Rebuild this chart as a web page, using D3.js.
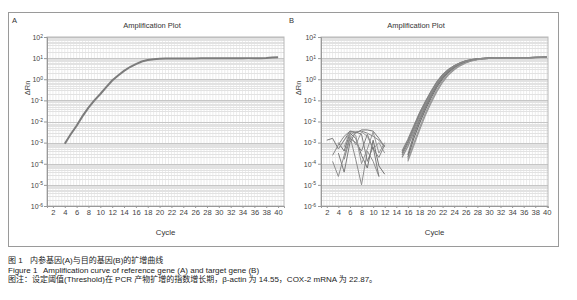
<!DOCTYPE html>
<html>
<head>
<meta charset="utf-8">
<script src="https://cdn.jsdelivr.net/npm/d3@7"></script>
<style>
  body { margin: 0; background: #fff; }
  svg { display: block; }
</style>
</head>
<body>
<script>
// ---- data ----
var xTicks = [2, 4, 6, 8, 10, 12, 14, 16, 18, 20, 22, 24, 26, 28, 30, 32, 34, 36, 38, 40];
var yDecades = [-6, -5, -4, -3, -2, -1, 0, 1, 2];

// panel A: reference gene, cycles 4..40
var cyclesA = d3.range(4, 41);
var valuesA = [8.9e-4, 2.5e-3, 6.3e-3, 1.8e-2, 4.5e-2, 0.10, 0.20, 0.42, 0.87, 1.5,
               2.5, 3.8, 5.2, 6.9, 8.1, 8.9, 9.3, 9.5, 9.6, 9.6,
               9.7, 9.7, 9.7, 9.8, 9.8, 9.8, 9.8, 9.9, 9.9, 9.9,
               9.9, 10.0, 10.0, 10.0, 10.2, 10.6, 11.0];

// panel B: target gene, amplification curves
var curvesB = [
  { start: 15, values: [3.2e-4, 1.1e-3, 5.0e-3, 2.2e-2, 7.9e-2, 0.25, 0.71, 1.6, 2.8, 4.3, 5.9, 7.4, 8.5, 9.3, 9.8, 10.0, 10.1, 10.2, 10.6, 10.3, 10.4, 10.5, 10.6, 10.8, 11.0, 11.2] },
  { start: 15, values: [2.0e-4, 6.5e-4, 3.0e-3, 1.4e-2, 5.5e-2, 0.19, 0.56, 1.3, 2.5, 3.9, 5.5, 7.0, 8.2, 9.0, 9.6, 9.9, 10.0, 10.1, 10.2, 10.3, 10.3, 10.4, 10.5, 10.7, 10.9, 11.1] },
  { start: 16, values: [2.0e-4, 1.5e-3, 8.0e-3, 3.5e-2, 0.13, 0.42, 1.05, 2.1, 3.5, 5.1, 6.6, 7.9, 8.8, 9.4, 9.8, 10.0, 10.1, 10.2, 10.3, 10.3, 10.4, 10.5, 10.7, 10.9, 11.1] },
  { start: 16, values: [1.6e-4, 9.0e-4, 5.0e-3, 2.4e-2, 9.5e-2, 0.32, 0.85, 1.8, 3.1, 4.7, 6.2, 7.6, 8.6, 9.3, 9.7, 9.9, 10.0, 10.1, 10.2, 10.3, 10.4, 10.5, 10.6, 10.8, 11.0] },
  { start: 15, values: [4.0e-4, 1.4e-3, 6.0e-3, 2.5e-2, 8.5e-2, 0.27, 0.75, 1.65, 2.9, 4.4, 6.0, 7.5, 8.6, 9.3, 9.8, 10.0, 10.1, 10.2, 10.3, 10.3, 10.4, 10.5, 10.6, 10.8, 11.0, 11.2] },
  { start: 16, values: [2.6e-4, 2.2e-3, 1.1e-2, 4.5e-2, 0.16, 0.50, 1.2, 2.3, 3.7, 5.3, 6.8, 8.0, 8.9, 9.5, 9.9, 10.0, 10.1, 10.2, 10.3, 10.4, 10.5, 10.6, 10.8, 11.0, 11.2] },
  { start: 16, values: [1.3e-4, 7.0e-4, 3.8e-3, 1.9e-2, 7.5e-2, 0.26, 0.72, 1.6, 2.8, 4.3, 5.9, 7.3, 8.4, 9.1, 9.6, 9.9, 10.0, 10.1, 10.2, 10.3, 10.3, 10.4, 10.6, 10.8, 11.0] },
  { start: 15, values: [2.6e-4, 9.0e-4, 4.0e-3, 1.8e-2, 6.5e-2, 0.22, 0.63, 1.45, 2.6, 4.1, 5.7, 7.2, 8.4, 9.2, 9.7, 9.9, 10.0, 10.1, 10.2, 10.3, 10.4, 10.5, 10.6, 10.8, 11.0, 11.2] }
];

// panel B: noisy early signal
var noiseB = [
  { start: 2, values: [1.3e-3, 1.6e-3, 5.0e-4, 1.3e-3, 3.5e-3, 2.8e-3, 4.0e-3, 4.0e-3, 3.5e-3, 1.6e-3, 6.3e-4] },
  { start: 3, values: [1.3e-4, 2.5e-5, 2.5e-4, 2.0e-3, 1.6e-4, 1.0e-5, 4.0e-4, 1.3e-4, 2.5e-5] },
  { start: 4, values: [1.0e-3, 4.0e-4, 2.8e-3, 1.6e-3, 2.5e-4, 6.3e-5, 1.3e-3, 7.9e-5, 3.2e-5] },
  { start: 4, values: [5.0e-4, 1.3e-3, 2.5e-3, 7.9e-4, 3.2e-3, 2.0e-3, 5.0e-4, 1.0e-3, 3.2e-4] },
  { start: 5, values: [1.6e-4, 1.6e-3, 1.0e-3, 4.0e-4, 2.5e-3, 5.0e-4, 2.0e-4, 7.9e-4] },
  { start: 4, values: [3.2e-4, 4.0e-5, 1.0e-3, 3.2e-3, 2.5e-3, 1.3e-4, 6.3e-4, 2.5e-5] },
  { start: 5, values: [6.3e-4, 3.2e-3, 2.2e-3, 1.0e-4, 5.0e-4, 3.2e-3, 3.2e-4, 1.0e-3] },
  { start: 3, values: [2.5e-4, 7.9e-4, 2.0e-3, 3.5e-3, 3.2e-3, 3.5e-3, 2.8e-3, 2.0e-3, 1.3e-3, 6.3e-4] }
];

var captionLines = [
  { y: 263, parts: [['图 1', 8], ['内参基因(A)与目的基因(B)的扩增曲线', 30]] },
  { y: 273, parts: [['Figure 1', 8], ['Amplification curve of reference gene (A) and target gene (B)', 43]] },
  { y: 282, parts: [['图注：设定阈值(Threshold)在 PCR 产物扩增的指数增长期，β-actin 为 14.55，COX-2 mRNA 为 22.87。', 8]] }
];

// ---- drawing ----
var W = 577, H = 300;
var svg = d3.select('body').append('svg').attr('width', W).attr('height', H);
var font = 'Arial, "Liberation Sans", sans-serif';

// outer frame around both panels
svg.append('rect')
  .attr('x', 8.5).attr('y', 12.5)
  .attr('width', 550).attr('height', 234)
  .attr('fill', 'none').attr('stroke', '#9a9a9a');

var y = d3.scaleLog().domain([1e-6, 1e2]).range([206, 37]);

var panels = [
  { letter: 'A', lx: 12, titleX: 152, ylabX: 30, tickEnd: 43, x: d3.scaleLinear().domain([1, 41]).range([47, 284]) },
  { letter: 'B', lx: 289, titleX: 416, ylabX: 301, tickEnd: 316, x: d3.scaleLinear().domain([1, 40.2]).range([321, 548]) }
];

panels.forEach(function(p) {
  var x = p.x;
  var g = svg.append('g');
  var x0 = x.range()[0], x1 = x.range()[1];

  // vertical grid every half cycle
  g.selectAll('line.vg').data(d3.range(1.5, x.domain()[1], 0.5))
    .enter().append('line')
    .attr('x1', function(d) { return x(d); }).attr('x2', function(d) { return x(d); })
    .attr('y1', y(1e2)).attr('y2', y(1e-6))
    .attr('stroke', '#ececec').attr('stroke-width', 1);

  // minor log grid
  var minors = [];
  yDecades.slice(0, -1).forEach(function(e) {
    for (var k = 2; k <= 9; k++) minors.push(k * Math.pow(10, e));
  });
  g.selectAll('line.mg').data(minors)
    .enter().append('line')
    .attr('x1', x0).attr('x2', x1)
    .attr('y1', function(d) { return Math.round(y(d)) + 0.5; })
    .attr('y2', function(d) { return Math.round(y(d)) + 0.5; })
    .attr('stroke', '#e2e2e2').attr('stroke-width', 1);

  // major decade lines
  g.selectAll('line.Mg').data(yDecades)
    .enter().append('line')
    .attr('x1', x0).attr('x2', x1)
    .attr('y1', function(d) { return Math.round(y(Math.pow(10, d))) + 0.5; })
    .attr('y2', function(d) { return Math.round(y(Math.pow(10, d))) + 0.5; })
    .attr('stroke', '#c6c6c6').attr('stroke-width', 1);

  // plot border
  g.append('rect')
    .attr('x', x0).attr('y', y(1e2))
    .attr('width', x1 - x0).attr('height', y(1e-6) - y(1e2))
    .attr('fill', 'none').attr('stroke', '#b8b8b8');

  // y axis
  var yAxis = g.append('g')
    .attr('transform', 'translate(' + x0 + ',0)')
    .call(d3.axisLeft(y).tickValues(yDecades.map(function(e) { return Math.pow(10, e); }))
      .tickSize(3).tickFormat(function() { return '10'; }));
  yAxis.select('.domain').attr('stroke', '#999');
  yAxis.selectAll('.tick line').attr('stroke', '#999');
  yAxis.selectAll('.tick text')
    .attr('x', p.tickEnd - x0)
    .attr('fill', '#444').attr('font-size', 7).attr('font-family', font)
    .each(function(d) {
      d3.select(this).append('tspan')
        .attr('dy', '-0.45em').attr('font-size', 5)
        .text(Math.round(Math.log10(d)));
    });

  // x axis
  var xAxis = g.append('g')
    .attr('transform', 'translate(0,' + y(1e-6) + ')')
    .call(d3.axisBottom(x).tickValues(xTicks).tickSize(2).tickPadding(2));
  xAxis.select('.domain').attr('stroke', '#999');
  xAxis.selectAll('.tick line').attr('stroke', '#999');
  xAxis.selectAll('.tick text')
    .attr('fill', '#444').attr('font-size', 7.6).attr('font-family', font);

  // labels
  svg.append('text').attr('x', p.lx).attr('y', 23)
    .attr('font-size', 7.5).attr('font-family', font).attr('fill', '#333')
    .text(p.letter);
  svg.append('text').attr('x', p.titleX).attr('y', 28)
    .attr('text-anchor', 'middle')
    .attr('font-size', 7.5).attr('font-family', font).attr('fill', '#333')
    .text('Amplification Plot');
  svg.append('text')
    .attr('transform', 'translate(' + p.ylabX + ',88) rotate(-90)')
    .attr('text-anchor', 'middle')
    .attr('font-size', 7.5).attr('font-family', font).attr('fill', '#444')
    .text('\u0394Rn');
  svg.append('text').attr('x', (x0 + x1) / 2).attr('y', 235)
    .attr('text-anchor', 'middle')
    .attr('font-size', 7.8).attr('font-family', font).attr('fill', '#333')
    .text('Cycle');
});

// curves
var xA = panels[0].x, xB = panels[1].x;
var lineA = d3.line().x(function(d) { return xA(d[0]); }).y(function(d) { return y(d[1]); });
var lineB = d3.line().x(function(d) { return xB(d[0]); }).y(function(d) { return y(d[1]); });

svg.append('path')
  .attr('d', lineA(cyclesA.map(function(c, i) { return [c, valuesA[i]]; })))
  .attr('fill', 'none').attr('stroke', '#7c7c7c').attr('stroke-width', 2);

var greys = ['#7a7a7a', '#8e8e8e', '#727272', '#9a9a9a', '#848484', '#7c7c7c', '#969696', '#888888'];

svg.selectAll('path.noise').data(noiseB).enter().append('path')
  .attr('d', function(s) {
    return lineB(s.values.map(function(v, i) { return [s.start + i, v]; }));
  })
  .attr('fill', 'none')
  .attr('stroke', function(d, i) { return greys[i]; })
  .attr('stroke-width', 1);

svg.selectAll('path.amp').data(curvesB).enter().append('path')
  .attr('d', function(s) {
    return lineB(s.values.map(function(v, i) { return [s.start + i, v]; }));
  })
  .attr('fill', 'none')
  .attr('stroke', function(d, i) { return greys[i]; })
  .attr('stroke-width', 1.2);

// caption
captionLines.forEach(function(l) {
  l.parts.forEach(function(pt) {
    svg.append('text').attr('x', pt[1]).attr('y', l.y)
      .attr('font-size', 8)
      .attr('font-family', 'Arial, "Liberation Sans", "Noto Sans CJK SC", sans-serif')
      .attr('fill', '#222')
      .text(pt[0]);
  });
});
</script>
</body>
</html>
